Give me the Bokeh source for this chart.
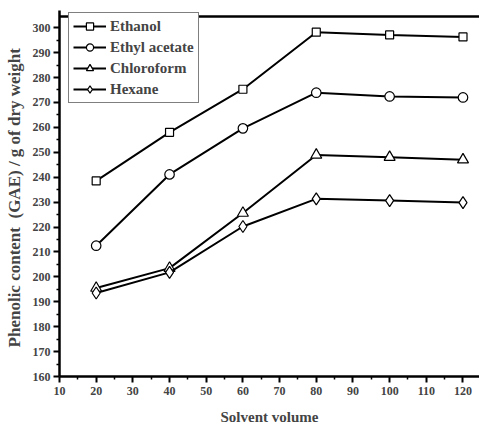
from bokeh.plotting import figure
from bokeh.models import Range1d, FixedTicker, Span, Legend
from bokeh.embed import file_html
from bokeh.resources import INLINE

volume = [20, 40, 60, 80, 100, 120]
ethanol = [238.5, 258.0, 275.3, 298.2, 297.1, 296.3]
ethyl_acetate = [212.5, 241.1, 259.6, 273.9, 272.4, 272.0]
chloroform = [195.5, 203.5, 225.6, 248.9, 248.0, 247.0]
hexane = [193.5, 201.8, 220.2, 231.3, 230.6, 229.8]

series = [
    ("Ethanol", ethanol, "square", 8),
    ("Ethyl acetate", ethyl_acetate, "circle", 9.5),
    ("Chloroform", chloroform, "triangle", 11),
    ("Hexane", hexane, "diamond", 12),
]

FONT = "Liberation Serif"
Y_TOP = 304.5

p = figure(width=479, height=427, output_backend="svg", toolbar_location=None,
           x_range=Range1d(10, 124.5), y_range=Range1d(160, 306.9),
           min_border_left=59, min_border_right=0, min_border_top=10, min_border_bottom=51)
p.outline_line_color = None
p.grid.visible = False
p.background_fill_color = "white"
p.border_fill_color = "white"

p.add_layout(Span(location=Y_TOP, dimension="width", line_color="black",
                  line_width=2.5, level="underlay"))

items = []
for name, ys, marker, size in series:
    l = p.line(volume, ys, line_color="black", line_width=2)
    s = p.scatter(volume, ys, marker=marker, size=size, fill_color="white",
                  line_color="black", line_width=1.2)
    items.append((name, [l, s]))

legend = Legend(items=items, location=(9, 273), glyph_width=33, glyph_height=18,
                spacing=3, padding=4, label_standoff=4,
                label_text_font=FONT, label_text_font_style="bold",
                label_text_font_size="15px", border_line_color="black",
                border_line_width=1, background_fill_alpha=1, margin=0)
p.add_layout(legend, "center")

p.xaxis.ticker = FixedTicker(ticks=list(range(10, 121, 10)), minor_ticks=list(range(15, 126, 10)))
p.yaxis.ticker = FixedTicker(ticks=list(range(160, 301, 10)), minor_ticks=list(range(165, 305, 10)))

for ax in (p.xaxis, p.yaxis):
    ax.axis_line_width = 2.5
    ax.major_tick_line_width = 2
    ax.minor_tick_line_width = 1.5
    ax.major_tick_out = 6
    ax.major_tick_in = 0
    ax.minor_tick_out = 3
    ax.minor_tick_in = 0
    ax.major_label_text_font = FONT
    ax.major_label_text_font_style = "bold"
    ax.major_label_text_font_size = "12px"
    ax.axis_label_text_font = FONT
    ax.axis_label_text_font_style = "bold"

p.xaxis.axis_label_text_font_size = "15px"
p.yaxis.axis_label_text_font_size = "17px"
p.xaxis.axis_label = "Solvent volume"
p.yaxis.axis_label = "Phenolic content\u00a0 (GAE) / g of dry weight\u00a0\u00a0"
p.xaxis.major_label_standoff = 4
p.yaxis.major_label_standoff = 3
p.xaxis.axis_label_standoff = 11
p.yaxis.axis_label_standoff = 6

open("out.html", "w").write(file_html(p, INLINE))
